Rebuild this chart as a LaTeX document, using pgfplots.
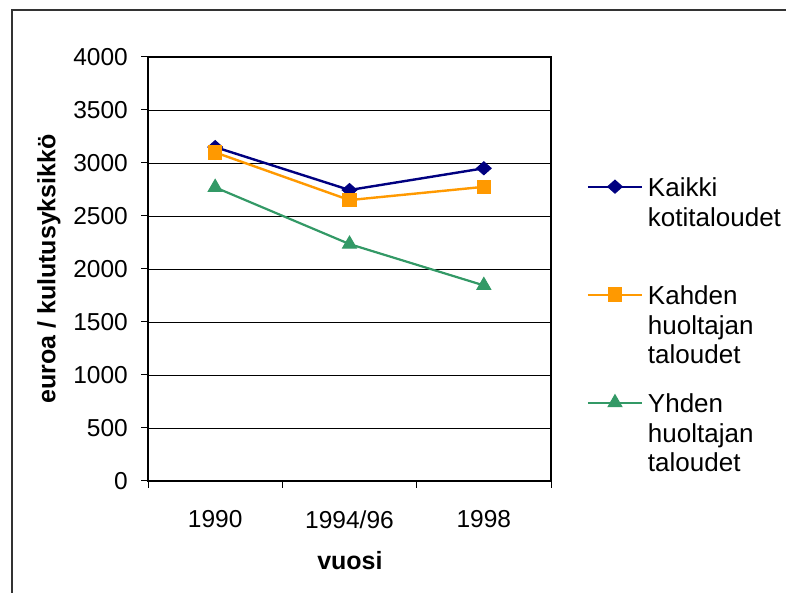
\documentclass[border=0pt]{standalone}
\usepackage{fontspec}
\setmainfont{Liberation Sans}
\usepackage{pgfplots}
\pgfplotsset{compat=1.18}
\definecolor{cblue}{HTML}{000080}
\definecolor{corange}{HTML}{FF9900}
\definecolor{cgreen}{HTML}{339966}
\newcommand{\leg}[3]{\vtop{\hbox{\strut #1}\hbox{\strut #2}\hbox{\strut #3}}}
\begin{document}
\fontsize{24.5}{29.5}\selectfont
\begin{tikzpicture}[x=1pt,y=1pt]
\useasboundingbox (0,0) rectangle (786,593);
\draw[line width=1.2pt, black!80] (12,0) -- (12,583) -- (786,583);
\begin{axis}[
  at={(148pt,112pt)}, anchor=south west,
  scale only axis, width=403pt, height=424pt,
  xmin=-0.5, xmax=2.5, ymin=0, ymax=4000,
  xtick={-0.5,0.5,1.5,2.5}, xticklabels={},
  extra x ticks={0,1,2}, extra x tick labels={1990,1994/96,1998},
  extra x tick style={major tick length=0pt, grid=none},
  ytick={0,500,...,4000},
  tick pos=left,
  ymajorgrids, major grid style={black, line width=0.8pt},
  tick align=outside, major tick length=7pt,
  tick style={black, line width=1pt},
  axis line style={black, line width=1.2pt},
  /pgf/number format/assume math mode=true,
  /pgf/number format/1000 sep={},
  ticklabel style={font=\fontsize{24.5}{28}\selectfont},
  yticklabel style={inner sep=0pt, xshift=-13pt},
  xticklabel style={yshift=-21pt},
  every axis y label/.style={at={(axis description cs:-0.2456,0.5)}, rotate=90, anchor=center, font=\fontsize{25}{28}\selectfont\bfseries},
  every axis x label/.style={at={(axis description cs:0.501,-0.1887)}, anchor=center, font=\fontsize{25}{28}\selectfont\bfseries},
  ylabel={euroa / kulutusyksikkö},
  xlabel={vuosi},
  legend image code/.code={\draw[#1, line width=2pt, mark repeat=2, mark phase=2] plot coordinates {(0pt,10pt) (27pt,10pt) (54pt,10pt)};},
  legend style={at={(axis description cs:1.0893,0.7193)}, anchor=north west, draw=none, fill=none,
    inner sep=0pt, outer sep=0pt, nodes={inner sep=0pt}, column sep=5pt, row sep=83.7pt,
    cells={anchor=base west}, font=\fontsize{26}{29.5}\selectfont},
]
\addplot[cblue, line width=2.4pt, mark=diamond*, mark size=6.5pt, mark options={solid, line width=1pt, xscale=1.5}]
  coordinates {(0,3150) (1,2745) (2,2950)};
\addlegendentry{\leg{Kaikki}{kotitaloudet}{}}
\addplot[corange, line width=2.4pt, mark=square*, mark size=6.8pt, mark options={solid, line width=1pt}]
  coordinates {(0,3100) (1,2650) (2,2775)};
\addlegendentry{\leg{Kahden}{huoltajan}{taloudet}}
\addplot[cgreen, line width=2.2pt, mark=triangle*, mark size=8pt, mark options={solid, line width=1pt}]
  coordinates {(0,2770) (1,2235) (2,1845)};
\addlegendentry{\leg{Yhden}{huoltajan}{taloudet}}
\end{axis}
\end{tikzpicture}
\end{document}
